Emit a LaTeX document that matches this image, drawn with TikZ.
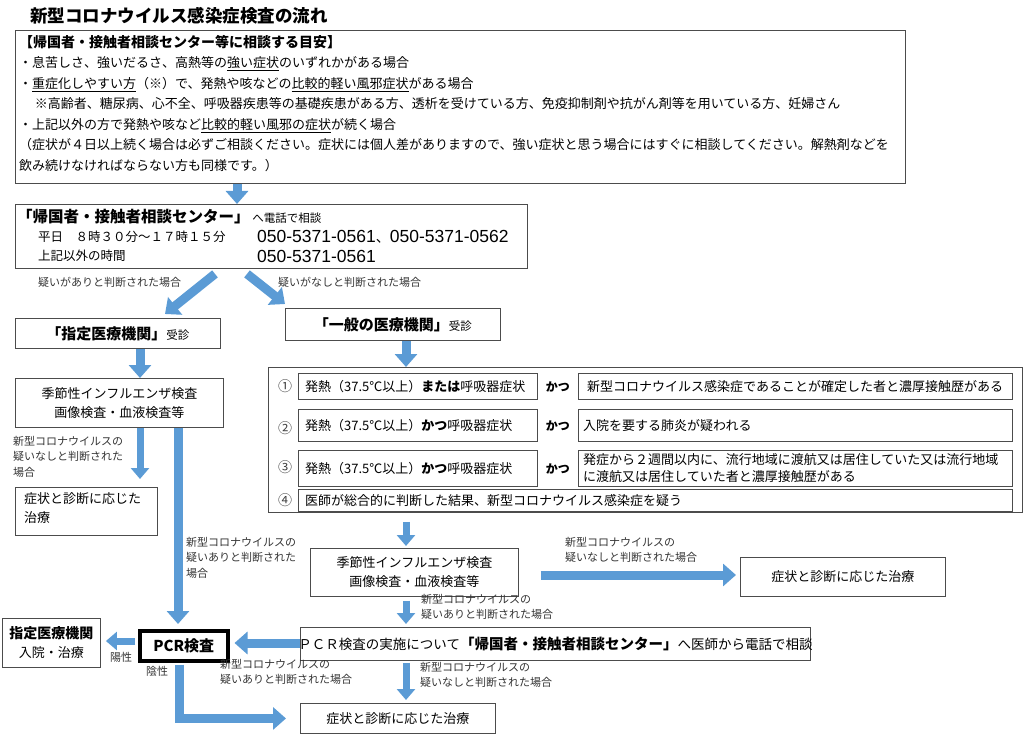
\documentclass[tikz,border=0pt]{standalone}
\usepackage{fontspec}
\setmainfont{Noto Sans CJK JP}
\newfontfamily\numfont{Liberation Sans}
\usetikzlibrary{arrows.meta,calc}
\definecolor{ab}{HTML}{5B9BD5}
\tikzset{
  bx/.style={draw=black!70, line width=0.9pt, anchor=north west, inner sep=0pt},
  fat/.style={draw=ab, line width=9pt, -{Triangle[width=22pt,length=13pt]}},
  thin arrow/.style={draw=ab, line width=7pt, -{Triangle[width=18pt,length=11pt]}},
  lbl/.style={font=\fontsize{11}{15.5}\selectfont, text=black!80, align=left, inner sep=0pt, anchor=north west},
  tx/.style={font=\fontsize{13}{19}\selectfont, inner sep=0pt, align=center},
}
\begin{document}
\begin{tikzpicture}[x=1pt,y=-1pt]
\useasboundingbox (0,0) rectangle (1024,735);
\node[anchor=west,font=\fontsize{17.5}{20}\selectfont\bfseries,inner sep=0pt] (title) at (30,16) {新型コロナウイルス感染症検査の流れ};

% top box
\node[bx, minimum width=890, minimum height=153] (top) at (15,30) {};
\node[anchor=north west, inner sep=0pt, align=left, font=\fontsize{13}{20.5}\selectfont] (toptext) at (19,35) {%
{\fontsize{14}{16}\selectfont\bfseries 【帰国者・接触者相談センター等に相談する目安】}\\
・息苦しさ、強いだるさ、高熱等の\underline{強い症状}のいずれかがある場合\\
・\underline{重症化しやすい方}（※）で、発熱や咳などの\underline{比較的軽い風邪症状}がある場合\\
\hspace*{1.2em}※高齢者、糖尿病、心不全、呼吸器疾患等の基礎疾患がある方、透析を受けている方、免疫抑制剤や抗がん剤等を用いている方、妊婦さん\\
・上記以外の方で発熱や咳など\underline{比較的軽い風邪の症状}が続く場合\\
（症状が４日以上続く場合は必ずご相談ください。症状には個人差がありますので、強い症状と思う場合にはすぐに相談してください。解熱剤などを\\
飲み続けなければならない方も同様です。）};

% center box
\node[bx, minimum width=512, minimum height=64] (ctr) at (15,204) {};
\node[anchor=west, inner sep=0pt] (ctr1) at (17,217) {{\fontsize{15.5}{18}\selectfont\bfseries 「帰国者・接触者相談センター」}{\fontsize{11.5}{13}\selectfont\ へ電話で相談}};
\node[anchor=west, inner sep=0pt, font=\fontsize{12.5}{14}\selectfont] (ctr2) at (38,237) {平日　８時３０分～１７時１５分};
\node[anchor=west, inner sep=0pt, font=\fontsize{12.5}{14}\selectfont] (ctr3) at (38,256) {上記以外の時間};
\node[anchor=west, inner sep=0pt, font=\numfont\fontsize{17.5}{19}\selectfont] (num1) at (257,237) {050-5371-0561{\rmfamily\fontsize{14}{16}\selectfont 、}050-5371-0562};
\node[anchor=west, inner sep=0pt, font=\numfont\fontsize{17.5}{19}\selectfont] (num2) at (257,256) {050-5371-0561};
\draw[fat] (top.south -| 237,0) -- (ctr.north -| 237,0);

% branches
\node[bx, minimum width=205, minimum height=30] (shitei) at (15,318) {};
\node[inner sep=0pt] at (shitei.center) {{\fontsize{15}{17}\selectfont\bfseries 「指定医療機関」}{\fontsize{11.5}{13}\selectfont 受診}};
\node[bx, minimum width=215, minimum height=32] (ippan) at (285,308) {};
\node[inner sep=0pt] at (ippan.center) {{\fontsize{15}{17}\selectfont\bfseries 「一般の医療機関」}{\fontsize{11.5}{13}\selectfont 受診}};
\draw[fat] ($(ctr.south west)+(200,5)$) -- ($(shitei.north west)+(150,-4)$);
\draw[fat] ($(ctr.south west)+(232,5)$) -- ($(ippan.north west)+(0,-4)$);
\node[lbl] (l1) at (38,277) {疑いがありと判断された場合};
\node[lbl] (l2) at (278,277) {疑いがなしと判断された場合};

% left column
\node[bx, minimum width=208, minimum height=49] (flu1) at (15,378) {};
\node[tx] at (flu1.center) {季節性インフルエンザ検査\\画像検査・血液検査等};
\draw[fat] (shitei.south -| 140,0) -- (flu1.north -| 140,0);
\node[bx, minimum width=142, minimum height=48] (trt1) at (15,487) {};
\node[anchor=north west, inner sep=0pt, align=left, font=\fontsize{13}{19}\selectfont] at (24,492) {症状と診断に応じた\\治療};
\draw[thin arrow] (flu1.south -| 140,0) -- ($(trt1.north -| 140,0)+(0,-8)$);
\node[lbl] at (13,436) {新型コロナウイルスの\\疑いなしと判断された\\場合};
\node[lbl] at (186,537) {新型コロナウイルスの\\疑いありと判断された\\場合};

% big criteria box
\node[bx, minimum width=754, minimum height=145] (crit) at (268,367) {};
\draw[fat] (ippan.south -| 406,0) -- (crit.north -| 406,0);
\foreach \n/\y/\h in {1/373/26, 2/409/32, 3/450/36} {
  \node[bx, minimum width=239, minimum height=\h] (L\n) at (298,\y) {};
  \node[bx, minimum width=434, minimum height=\h] (R\n) at (578,\y) {};
  \node[font=\fontsize{12}{14}\selectfont\bfseries, inner sep=0pt] (K\n) at ($(L\n.east)!0.5!(R\n.west)$) {かつ};
}
\node[bx, minimum width=714, minimum height=22] (L4) at (298,489) {};
\foreach \n/\y in {1/386, 2/428, 3/467, 4/500} {
  \node[inner sep=0pt, font=\fontsize{14}{15}\selectfont, text=black!75] (c\n) at (285,\y) {\ifcase\n\or ①\or ②\or ③\or ④\fi};
}
\tikzset{rowtx/.style={anchor=west, inner sep=0pt, font=\fontsize{13}{17}\selectfont, align=left}}
\node[rowtx] at ($(L1.west)+(7,0)$) {発熱（37.5℃以上）{\bfseries または}呼吸器症状};
\node[rowtx] at ($(L2.west)+(7,0)$) {発熱（37.5℃以上）{\bfseries かつ}呼吸器症状};
\node[rowtx] at ($(L3.west)+(7,0)$) {発熱（37.5℃以上）{\bfseries かつ}呼吸器症状};
\node[rowtx] at ($(R1.west)+(9,0)$) {新型コロナウイルス感染症であることが確定した者と濃厚接触歴がある};
\node[rowtx] at ($(R2.west)+(5,0)$) {入院を要する肺炎が疑われる};
\node[rowtx] at ($(R3.west)+(5,0)$) {発症から２週間以内に、流行地域に渡航又は居住していた又は流行地域\\に渡航又は居住していた者と濃厚接触歴がある};
\node[rowtx] at ($(L4.west)+(7,0)$) {医師が総合的に判断した結果、新型コロナウイルス感染症を疑う};

% center column
\node[bx, minimum width=208, minimum height=48] (flu2) at (310,548) {};
\node[tx] at (flu2.center) {季節性インフルエンザ検査\\画像検査・血液検査等};
\draw[thin arrow] ($(crit.south -| 406,0)+(0,9)$) -- ($(flu2.north -| 406,0)+(0,-2)$);
\node[bx, minimum width=205, minimum height=39] (trt2) at (740,557) {};
\node[tx] at (trt2.center) {症状と診断に応じた治療};
\draw[fat] ($(flu2.east |- 0,575)+(22,0)$) -- ($(trt2.west |- 0,575)+(-4,0)$);
\node[lbl] at (565,537) {新型コロナウイルスの\\疑いなしと判断された場合};

\node[bx, minimum width=510, minimum height=33] (pcrc) at (300,627) {};
\node[inner sep=0pt, font=\fontsize{13.5}{15}\selectfont] at (pcrc.center) {ＰＣＲ検査の実施について{\fontsize{14.5}{16}\selectfont\bfseries「帰国者・接触者相談センター」}へ医師から電話で相談};
\draw[thin arrow] ($(flu2.south -| 406,0)+(0,4)$) -- ($(pcrc.north -| 406,0)+(0,-3)$);
\node[lbl] at (421,594) {新型コロナウイルスの\\疑いありと判断された場合};

\node[draw=black, line width=3.5pt, anchor=north west, minimum width=88, minimum height=30, inner sep=0pt, font=\fontsize{15}{17}\selectfont\bfseries] (pcr) at (138,629) {PCR検査};
\draw[fat] (flu1.south -| 178,0) -- ($(pcr.north -| 178,0)+(0,-5)$);
\draw[fat] (pcrc.west |- 0,643) -- ($(pcr.east |- 0,643)+(5,0)$);
\node[lbl] at (220,659) {新型コロナウイルスの\\疑いありと判断された場合};

\node[bx, minimum width=98, minimum height=49] (shitei2) at (2,618) {};
\node[inner sep=0pt, align=center, font=\fontsize{13}{19}\selectfont] at (shitei2.center) {{\fontsize{14}{17}\selectfont\bfseries 指定医療機関}\\入院・治療};
\draw[thin arrow] ($(pcr.west |- 0,641)+(-3,0)$) -- ($(shitei2.east |- 0,641)+(5,0)$);
\node[lbl] at (110,652) {陽性};
\node[lbl] at (146,666) {陰性};

\node[bx, minimum width=195, minimum height=30] (trt3) at (300,703) {};
\node[tx] at (trt3.center) {症状と診断に応じた治療};
\draw[thin arrow] ($(pcrc.south -| 406,0)+(0,2)$) -- ($(trt3.north -| 406,0)+(0,-3)$);
\node[lbl] at (420,662) {新型コロナウイルスの\\疑いなしと判断された場合};

\draw[fat] ($(pcr.south)+(-4,2)$) |- ($(trt3.west)+(-14,0)$);
\end{tikzpicture}
\end{document}
